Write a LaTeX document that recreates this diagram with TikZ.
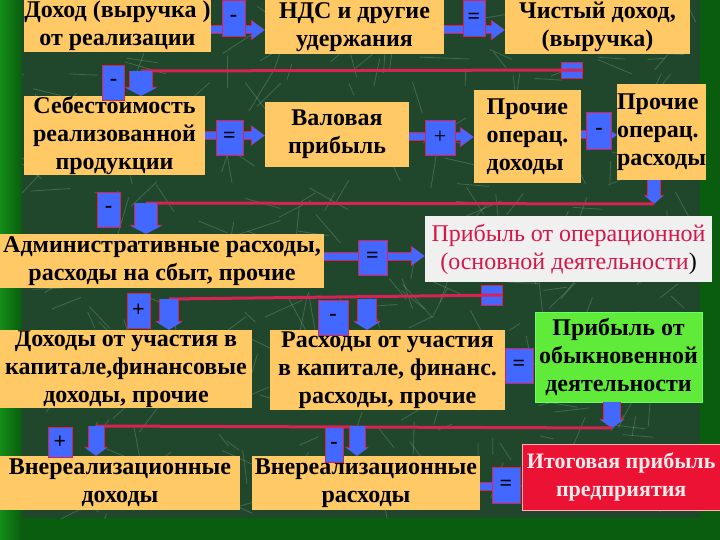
\documentclass[tikz,border=0pt]{standalone}
\usepackage{fontspec}
\setmainfont{Liberation Serif}
\usepackage{tikz}
\usetikzlibrary{arrows.meta,positioning}
\definecolor{boxtan}{RGB}{255,202,102}
\definecolor{arrblue}{RGB}{66,104,255}
\definecolor{linered}{RGB}{214,34,84}
\definecolor{panelgreen}{RGB}{32,70,44}
\definecolor{edgegreen}{RGB}{10,92,14}
\definecolor{leftgreen}{RGB}{20,140,24}
\definecolor{profitgreen}{RGB}{96,234,58}
\definecolor{totalred}{RGB}{236,18,52}
\definecolor{opred}{RGB}{212,22,72}
\definecolor{streakcol}{RGB}{170,210,180}
\tikzset{
  box/.style={fill=boxtan, inner sep=0pt, align=center, font=\bfseries\fontsize{24}{28}\selectfont},
  opbox/.style={fill=arrblue, draw=linered, line width=0.8pt, inner sep=0pt, font=\bfseries\fontsize{22}{22}\selectfont},
  blockarr/.style={draw=arrblue, line width=7pt, -{Triangle[length=13pt,width=17pt]},
    preaction={draw=linered, line width=9pt, -{Triangle[length=14pt,width=20pt]}}},
  downarr/.style={draw=arrblue, line width=#1, -{Triangle[length=8pt,width=0pt 1.4]},
    preaction={draw=linered, line width=#1+2pt, -{Triangle[length=9pt,width=0pt 1.4]}}},
  downarr/.default=20pt,
  redline/.style={draw=linered, line width=3pt},
  streak/.style={draw=streakcol, opacity=0.25, line width=0.8pt}
}
\begin{document}
\begin{tikzpicture}[x=1pt,y=-1pt]
    \useasboundingbox (0,0) rectangle (720,540);
    \fill[edgegreen] (0,0) rectangle (720,540);
    \shade[left color=leftgreen, right color=edgegreen] (0,0) rectangle (22,540);
    \fill[panelgreen] (22,0) rectangle (700,518);
    \begin{scope}
      \clip (22,0) rectangle (700,518);
      \pgfmathsetseed{11}
      \foreach \i in {1,...,280}{
        \pgfmathsetmacro\xa{361+339*rand}
        \pgfmathsetmacro\ya{259+259*rand}
        \pgfmathsetmacro\ang{360*rnd}
        \pgfmathsetmacro\len{12+38*rnd}
        \draw[streak] (\xa,\ya) -- ++(\ang:\len);
      }
    \end{scope}

    \node (doxod) at (117.5,26) [box, minimum width=187pt, minimum height=52pt] {Доход (выручка )\\от реализации};
    \node (nds) at (354.5,27) [box, minimum width=179pt, minimum height=54pt] {НДС и другие\\удержания};
    \node (chist) at (597.5,27) [box, minimum width=185pt, minimum height=54pt] {Чистый доход,\\(выручка)};
    \node (sebest) at (114.5,135.5) [box, minimum width=181pt, minimum height=79pt] {Себестоимость\\реализованной\\продукции};
    \node (valov) at (337,134.5) [box, minimum width=144pt, minimum height=65pt] {Валовая\\прибыль};
    \node (prochdox) at (527.5,136.5) [box, align=left, minimum width=107pt, minimum height=93pt] {Прочие\\операц.\\доходы};
    \node (prochras) at (661.5,132) [box, align=left, minimum width=87pt, minimum height=96pt] {Прочие\\операц.\\расходы};
    \node (admin) at (162,261) [box, minimum width=324pt, minimum height=54pt] {Административные расходы,\\расходы на сбыт, прочие};
    \node (operprib) at (568.5,249) [box, fill=white!94!black, text=opred, font=\fontsize{24}{28}\selectfont, minimum width=287pt, minimum height=66pt] {Прибыль от операционной\\(основной деятельности{\color{black})}};
    \node (dohuch) at (126,369) [box, minimum width=252pt, minimum height=78pt] {Доходы от участия в\\капитале,финансовые\\доходы, прочие};
    \node (rasuch) at (387.5,370) [box, minimum width=235pt, minimum height=80pt] {Расходы от участия\\в капитале, финанс.\\расходы, прочие};
    \node (obykn) at (618.5,357) [box, fill=profitgreen, draw=green!60!white, minimum width=167pt, minimum height=90pt] {Прибыль от\\обыкновенной\\деятельности};
    \node (vnedox) at (120,483) [box, minimum width=240pt, minimum height=54pt] {Внереализационные\\доходы};
    \node (vneras) at (366,483) [box, minimum width=228pt, minimum height=54pt] {Внереализационные\\расходы};
    \node (itog) at (522,477) [box, anchor=west, fill=totalred, draw=red!30!white, text=red!8!white, font=\bfseries\fontsize{22}{28}\selectfont, minimum width=198pt, minimum height=66pt] {Итоговая прибыль\\предприятия};

    \draw[blockarr] ([yshift=-4pt]doxod.east) -- ([yshift=-4pt]doxod.east -| nds.west);
    \draw[blockarr] ([yshift=-3pt]nds.east) -- ([yshift=-3pt]nds.east -| chist.west);
    \draw[blockarr] (sebest.east) -- (sebest.east -| valov.west);
    \draw[blockarr] ([yshift=-2.5pt]valov.east) -- ([yshift=-2.5pt]valov.east -| prochdox.west);
    \draw[blockarr] ([yshift=1.5pt]prochdox.east) -- ([yshift=1.5pt]prochdox.east -| prochras.west);
    \draw[blockarr] ([yshift=5pt]admin.east) -- ([yshift=5pt]admin.east -| operprib.west);
    \draw[blockarr] ([yshift=6pt]rasuch.east) -- ([yshift=6pt]rasuch.east -| obykn.west);
    \draw[blockarr] ([yshift=-3pt]vneras.east) -- ([yshift=-3pt]vneras.east -| itog.west);

    \node (stubA) at (572,70) [opbox, minimum width=21pt, minimum height=16pt] {};
    \coordinate (turnA) at (141,71);
    \draw[redline] (stubA.east) -- (turnA);
    \draw[downarr=22pt] (turnA) -- (turnA |- sebest.north);

    \coordinate (stubB) at (654,204);
    \coordinate (turnB) at (146,203);
    \draw[downarr=12pt] (stubB |- prochras.south) -- (stubB);
    \draw[redline] (stubB) -- (turnB);
    \draw[downarr=22pt] (turnB) -- (turnB |- admin.north);

    \node (stubC) at (492,295) [opbox, minimum width=21pt, minimum height=20pt] {};
    \coordinate (turnC) at (169,299);
    \coordinate (turnCb) at (367,299);
    \draw[redline] (stubC.east) -- (turnC);
    \draw[downarr=18pt] (turnC) -- (turnC |- dohuch.north);
    \draw[downarr=18pt] (turnCb) -- (turnCb |- rasuch.north);

    \coordinate (stubD) at (612,428);
    \coordinate (turnD) at (96,426);
    \coordinate (turnDb) at (357,426);
    \draw[downarr=16pt] (stubD |- obykn.south) -- (stubD);
    \draw[redline] (stubD) -- (turnD);
    \draw[downarr=15pt] (turnD) -- (turnD |- vnedox.north);
    \draw[downarr=15pt] (turnDb) -- (turnDb |- vneras.north);

    \node (opA) at (233.5,18) [opbox, minimum width=23pt, minimum height=36pt] {-};
    \node (opB) at (474,18) [opbox, minimum width=22pt, minimum height=36pt] {=};
    \node (opC) at (229.5,137.5) [opbox, minimum width=27pt, minimum height=35pt] {=};
    \node (opD) at (440,137.5) [opbox, font=\fontsize{22}{22}\selectfont, minimum width=30pt, minimum height=35pt] {+};
    \node (opE) at (599,131) [opbox, minimum width=25pt, minimum height=37pt] {-};
    \node (opF) at (113.5,82.5) [opbox, minimum width=22pt, minimum height=35pt] {-};
    \node (opG) at (108.5,209.5) [opbox, minimum width=23pt, minimum height=35pt] {-};
    \node (opH) at (372.5,257.5) [opbox, minimum width=29pt, minimum height=35pt] {=};
    \node (opI) at (138.5,310.5) [opbox, minimum width=23pt, minimum height=35pt] {+};
    \node (opJ) at (333,317.5) [opbox, minimum width=30pt, minimum height=35pt] {-};
    \node (opK) at (519,365.5) [opbox, minimum width=28pt, minimum height=35pt] {=};
    \node (opL) at (60,442) [opbox, minimum width=24pt, minimum height=30pt] {+};
    \node (opM) at (334,445) [opbox, minimum width=18pt, minimum height=35pt] {-};
    \node (opN) at (506,485) [opbox, minimum width=28pt, minimum height=36pt] {=};
\end{tikzpicture}
\end{document}
